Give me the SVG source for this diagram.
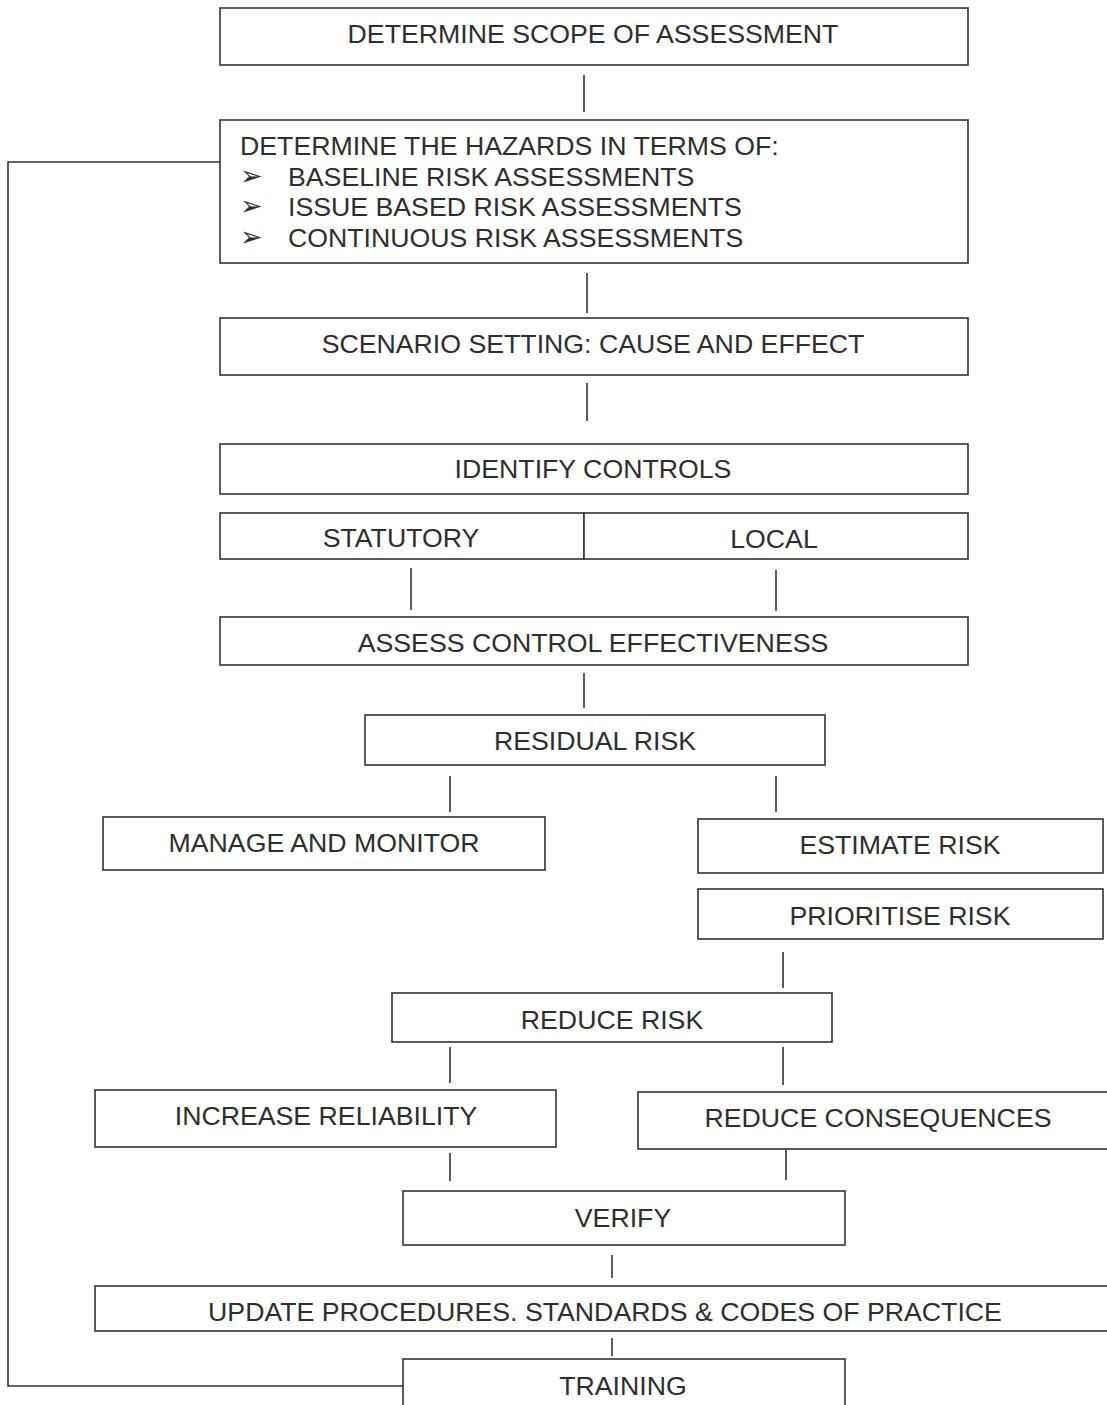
<svg xmlns="http://www.w3.org/2000/svg" width="1107" height="1405" viewBox="0 0 1107 1405">
<style>
.box{fill:#fff;stroke:#333;stroke-width:1.6}
.ln{fill:none;stroke:#333;stroke-width:1.6}
text{font-family:"Liberation Sans",Arial,"DejaVu Sans",sans-serif;font-size:26.7px;fill:#2e2e2e}
.c{text-anchor:middle}
.bul{font-family:"DejaVu Sans",sans-serif;font-size:27px}
</style>
<rect width="1107" height="1405" fill="#fff"/>
<g id="connectors">
<line class="ln" x1="584" y1="75" x2="584" y2="112"/>
<line class="ln" x1="587" y1="273" x2="587" y2="313"/>
<line class="ln" x1="587" y1="383" x2="587" y2="421"/>
<line class="ln" x1="411" y1="568" x2="411" y2="610"/>
<line class="ln" x1="776" y1="570" x2="776" y2="611"/>
<line class="ln" x1="584" y1="673" x2="584" y2="708"/>
<line class="ln" x1="450" y1="776" x2="450" y2="812"/>
<line class="ln" x1="776" y1="776" x2="776" y2="812"/>
<line class="ln" x1="783" y1="952" x2="783" y2="988"/>
<line class="ln" x1="450" y1="1047" x2="450" y2="1083"/>
<line class="ln" x1="783" y1="1047" x2="783" y2="1085"/>
<line class="ln" x1="450" y1="1153" x2="450" y2="1181"/>
<line class="ln" x1="786" y1="1150" x2="786" y2="1180"/>
<line class="ln" x1="612" y1="1255" x2="612" y2="1278"/>
<line class="ln" x1="612" y1="1338" x2="612" y2="1356"/>
<polyline class="ln" points="403,1386 8,1386 8,162 220,162"/>
</g>
<g id="scope"><rect class="box" x="220" y="8" width="748" height="57"/><text class="c" x="593" y="43">DETERMINE SCOPE OF ASSESSMENT</text></g>
<g id="hazards"><rect class="box" x="220" y="120" width="748" height="143"/>
<text x="240" y="155">DETERMINE THE HAZARDS IN TERMS OF:</text>
<text class="bul" x="240" y="185">➢</text><text x="288" y="186">BASELINE RISK ASSESSMENTS</text>
<text class="bul" x="240" y="215">➢</text><text x="288" y="216">ISSUE BASED RISK ASSESSMENTS</text>
<text class="bul" x="240" y="246">➢</text><text x="288" y="247">CONTINUOUS RISK ASSESSMENTS</text></g>
<g id="scenario"><rect class="box" x="220" y="318" width="748" height="57"/><text class="c" x="593" y="353">SCENARIO SETTING: CAUSE AND EFFECT</text></g>
<g id="identify"><rect class="box" x="220" y="444" width="748" height="50"/><text class="c" x="593" y="478">IDENTIFY CONTROLS</text></g>
<g id="statutory"><rect class="box" x="220" y="513" width="364" height="46"/><text class="c" x="401" y="547">STATUTORY</text></g>
<g id="local"><rect class="box" x="584" y="513" width="384" height="46"/><text class="c" x="774" y="548">LOCAL</text></g>
<g id="assess"><rect class="box" x="220" y="617" width="748" height="48"/><text class="c" x="593" y="652">ASSESS CONTROL EFFECTIVENESS</text></g>
<g id="residual"><rect class="box" x="365" y="715" width="460" height="50"/><text class="c" x="595" y="750">RESIDUAL RISK</text></g>
<g id="manage"><rect class="box" x="103" y="817" width="442" height="53"/><text class="c" x="324" y="852">MANAGE AND MONITOR</text></g>
<g id="estimate"><rect class="box" x="698" y="819" width="405" height="54"/><text class="c" x="900" y="854">ESTIMATE RISK</text></g>
<g id="prioritise"><rect class="box" x="698" y="889" width="405" height="50"/><text class="c" x="900" y="925">PRIORITISE RISK</text></g>
<g id="reduce"><rect class="box" x="392" y="993" width="440" height="49"/><text class="c" x="612" y="1029">REDUCE RISK</text></g>
<g id="reliability"><rect class="box" x="95" y="1090" width="461" height="57"/><text class="c" x="326" y="1125">INCREASE RELIABILITY</text></g>
<g id="consequences"><rect class="box" x="638" y="1092" width="480" height="57"/><text class="c" x="878" y="1127">REDUCE CONSEQUENCES</text></g>
<g id="verify"><rect class="box" x="403" y="1191" width="442" height="54"/><text class="c" x="623" y="1227">VERIFY</text></g>
<g id="update"><rect class="box" x="95" y="1286" width="1025" height="45"/><text class="c" x="605" y="1321">UPDATE PROCEDURES. STANDARDS &amp; CODES OF PRACTICE</text></g>
<g id="training"><rect class="box" x="403" y="1359" width="442" height="60"/><text class="c" x="623" y="1395">TRAINING</text></g>
</svg>
